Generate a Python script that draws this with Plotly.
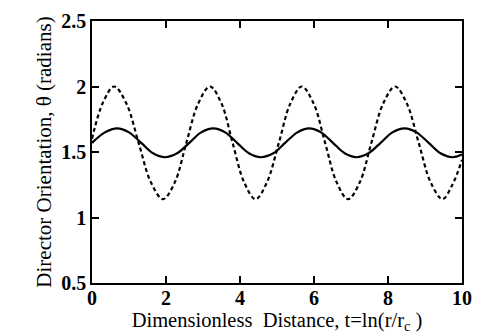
import plotly.graph_objects as go

# Dashed curve
dashed_x = [0.0, 0.3, 0.6, 0.93, 1.26, 1.59, 1.92, 2.24, 2.55, 2.87, 3.19,
            3.5, 3.8, 4.11, 4.42, 4.73, 5.05, 5.36, 5.67, 5.99, 6.3, 6.61,
            6.92, 7.24, 7.55, 7.87, 8.19, 8.51, 8.83, 9.15, 9.47, 9.74, 10.0]
dashed_y = [1.60, 1.88, 2.00, 1.87, 1.57, 1.27, 1.14, 1.27, 1.57, 1.87, 2.00,
            1.87, 1.57, 1.27, 1.14, 1.27, 1.57, 1.87, 2.00, 1.87, 1.57, 1.27,
            1.14, 1.27, 1.57, 1.87, 2.00, 1.87, 1.57, 1.27, 1.14, 1.25, 1.44]

# Solid curve
solid_x = [0.0, 0.35, 0.68, 1.0, 1.33, 1.65, 1.97, 2.3, 2.63, 2.95, 3.28,
           3.6, 3.92, 4.24, 4.56, 4.9, 5.22, 5.55, 5.87, 6.19, 6.51, 6.83,
           7.15, 7.47, 7.8, 8.12, 8.45, 8.77, 9.1, 9.42, 9.74, 10.0]
solid_y = [1.57, 1.65, 1.68, 1.65, 1.57, 1.49, 1.46, 1.49, 1.57, 1.65, 1.68,
           1.65, 1.57, 1.49, 1.46, 1.49, 1.57, 1.65, 1.68, 1.65, 1.57, 1.49,
           1.46, 1.49, 1.57, 1.65, 1.68, 1.65, 1.57, 1.49, 1.46, 1.48]

x_ticks = [0, 2, 4, 6, 8, 10]
x_tick_labels = ["0", "2", "4", "6", "8", "10"]
y_ticks = [0.5, 1, 1.5, 2, 2.5]
y_tick_labels = ["0.5", "1", "1.5", "2", "2.5"]

fig = go.Figure()
fig.add_trace(go.Scatter(x=dashed_x, y=dashed_y, mode="lines",
                         line=dict(color="black", width=2.2, dash="4px,3px", shape="spline", smoothing=1.0)))
fig.add_trace(go.Scatter(x=solid_x, y=solid_y, mode="lines",
                         line=dict(color="black", width=2.2, shape="spline", smoothing=1.0)))

font = "Liberation Serif"
fig.update_layout(
    width=482, height=335,
    margin=dict(l=92, r=10, t=15, b=52),
    paper_bgcolor="white", plot_bgcolor="white",
    showlegend=False,
    font=dict(family=font, color="black"),
    xaxis=dict(range=[0, 10], tickvals=x_ticks, ticktext=["<b>%s</b>" % t for t in x_tick_labels],
               ticks="inside", ticklen=7, ticklabelstandoff=-4,
               tickwidth=1.5, tickcolor="black", showline=True, linecolor="black",
               linewidth=1.5, mirror="ticks", showgrid=False, zeroline=False,
               tickfont=dict(family=font, size=20, color="black"),
               title=dict(text="Dimensionless  Distance, t=ln(r/r<sub>c</sub> )",
                          font=dict(family=font, size=20.5, color="black"), standoff=0)),
    yaxis=dict(range=[0.5, 2.5], tickvals=y_ticks, ticktext=["<b>%s</b>" % t for t in y_tick_labels],
               ticks="inside", ticklen=7, tickwidth=1.5, tickcolor="black",
               showline=True, linecolor="black", linewidth=1.5, mirror="ticks",
               showgrid=False, zeroline=False,
               tickfont=dict(family=font, size=20, color="black"),
               title=dict(text="Director Orientation, θ (radians)",
                          font=dict(family=font, size=21, color="black"), standoff=4)),
)
fig.write_html("out.html", config={"displayModeBar": False},
               post_script="document.body.style.margin='0';")
